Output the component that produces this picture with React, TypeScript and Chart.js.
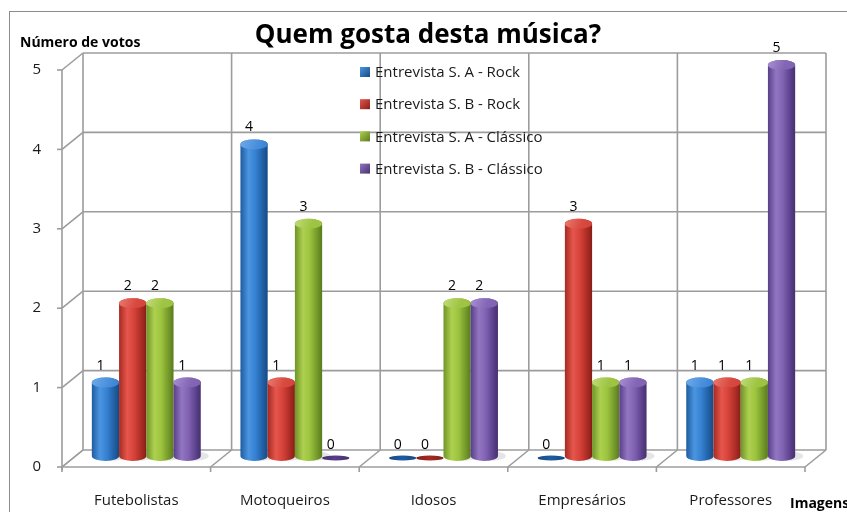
import React, { useEffect, useRef } from "react";
import { Chart, registerables } from "chart.js";
Chart.register(...registerables);

const categories = ["Futebolistas", "Motoqueiros", "Idosos", "Empresários", "Professores"];
const seriesLabels = [
  "Entrevista S. A - Rock",
  "Entrevista S. B - Rock",
  "Entrevista S. A - Clássico",
  "Entrevista S. B - Clássico",
];
const rockA = [1, 4, 0, 0, 1];
const rockB = [2, 1, 0, 3, 1];
const classicoA = [2, 3, 2, 1, 1];
const classicoB = [1, 0, 2, 1, 5];
const yTicks = [0, 1, 2, 3, 4, 5];
const titleText = "Quem gosta desta música?";
const yTitle = "Número de votos";
const xTitle = "Imagens";

const FONT = "'Open Sans', 'Noto Sans', sans-serif";

const palette = [
  { darkest: "#174a82", dark: "#1f5ca0", light: "#4b95e0", mid: "#3581d2", cap: "#4a8fdc", capHi: "#6eaaea" },
  { darkest: "#851e18", dark: "#a52a22", light: "#e6564c", mid: "#d6423a", cap: "#d84a40", capHi: "#ec7a70" },
  { darkest: "#5a7a1c", dark: "#6f9428", light: "#aed050", mid: "#9cc43e", cap: "#9fc444", capHi: "#c0dc78" },
  { darkest: "#47306f", dark: "#583e88", light: "#9276c2", mid: "#8062b2", cap: "#8466b6", capHi: "#a890d2" },
];

// perspective offsets (front and back planes relative to the bar plane)
const FX = -10, FY = 8, BX = 11, BY = -9;

function drawCylinder(ctx: CanvasRenderingContext2D, x: number, top: number, base: number, w: number, col: any) {
  const rx = w / 2;
  const ry = 5;
  const l = x - rx, r = x + rx;
  const ty = top + 3;
  const by = base - 3;
  if (by - ty < 2) {
    ctx.beginPath();
    ctx.ellipse(x, base - 1, rx, 2.6, 0, 0, Math.PI * 2);
    const gz = ctx.createLinearGradient(l, 0, r, 0);
    gz.addColorStop(0, col.darkest);
    gz.addColorStop(0.5, col.dark);
    gz.addColorStop(1, col.darkest);
    ctx.fillStyle = gz;
    ctx.fill();
    return;
  }
  ctx.beginPath();
  ctx.ellipse(x + 5, base - 3, rx + 3, 5, 0, 0, Math.PI * 2);
  ctx.fillStyle = "rgba(0,0,0,0.10)";
  ctx.fill();

  const g = ctx.createLinearGradient(l, 0, r, 0);
  g.addColorStop(0, col.dark);
  g.addColorStop(0.3, col.light);
  g.addColorStop(0.55, col.mid);
  g.addColorStop(0.85, col.dark);
  g.addColorStop(1, col.darkest);
  ctx.beginPath();
  ctx.moveTo(l, ty);
  ctx.lineTo(l, by);
  ctx.ellipse(x, by, rx, ry, 0, Math.PI, 0, true);
  ctx.lineTo(r, ty);
  ctx.ellipse(x, ty, rx, ry, 0, 0, Math.PI, true);
  ctx.closePath();
  ctx.fillStyle = g;
  ctx.fill();

  const gc = ctx.createLinearGradient(l, ty - ry, r, ty + ry);
  gc.addColorStop(0, col.capHi);
  gc.addColorStop(0.6, col.cap);
  gc.addColorStop(1, col.mid);
  ctx.beginPath();
  ctx.ellipse(x, ty, rx, ry, 0, 0, Math.PI * 2);
  ctx.fillStyle = gc;
  ctx.fill();
}

const framePlugin = {
  id: "frame3d",
  beforeDraw(chart: any) {
    const ctx = chart.ctx;
    ctx.save();
    ctx.fillStyle = "#ffffff";
    ctx.fillRect(0, 0, chart.width, chart.height);
    ctx.strokeStyle = "#8c8c8c";
    ctx.lineWidth = 1;
    ctx.strokeRect(9.5, 11.5, chart.width + 20, chart.height + 20);
    ctx.restore();
  },
  beforeDatasetsDraw(chart: any) {
    const ctx = chart.ctx;
    const xs = chart.scales.x;
    const ys = chart.scales.y;
    const L = chart.chartArea.left;
    const R = chart.chartArea.right;
    const Y = (v: number) => ys.getPixelForValue(v);
    const n = categories.length;
    const bounds: number[] = [];
    for (let k = 0; k <= n; k++) bounds.push(xs.getPixelForValue(k - 0.5));
    const y0 = Y(yTicks[0]);
    const yTop = Y(yTicks[yTicks.length - 1]);
    ctx.save();
    ctx.strokeStyle = "#9c9c9c";
    ctx.lineWidth = 1.6;
    const line = (x1: number, y1: number, x2: number, y2: number) => {
      ctx.beginPath();
      ctx.moveTo(x1, y1);
      ctx.lineTo(x2, y2);
      ctx.stroke();
    };
    yTicks.forEach((v) => line(L + BX, Y(v) + BY, R + BX, Y(v) + BY));
    bounds.forEach((b) => line(b + BX, y0 + BY, b + BX, yTop + BY));
    yTicks.forEach((v) => line(L + FX, Y(v) + FY, L + BX, Y(v) + BY));
    line(L + FX, y0 + FY + 3, L + FX, yTop + FY);
    yTicks.forEach((v) => line(L + FX - 5, Y(v) + FY, L + FX, Y(v) + FY));
    line(L + FX, y0 + FY, R + FX, y0 + FY);
    bounds.forEach((b) => {
      line(b + FX, y0 + FY, b + BX, y0 + BY);
      line(b + FX, y0 + FY, b + FX, y0 + FY + 5);
    });
    ctx.restore();
  },
  afterDatasetsDraw(chart: any) {
    const ctx = chart.ctx;
    ctx.save();
    chart.data.datasets.forEach((ds: any, di: number) => {
      const meta = chart.getDatasetMeta(di);
      meta.data.forEach((el: any) => {
        const p = el.getProps(["x", "y", "base", "width"], true);
        drawCylinder(ctx, p.x, p.y, p.base, p.width, palette[di]);
      });
    });
    ctx.fillStyle = "#000";
    ctx.font = `14px ${FONT}`;
    ctx.textAlign = "center";
    ctx.textBaseline = "middle";
    chart.data.datasets.forEach((ds: any, di: number) => {
      const meta = chart.getDatasetMeta(di);
      meta.data.forEach((el: any, i: number) => {
        const p = el.getProps(["x", "y"], true);
        ctx.fillText(String(ds.data[i]), p.x - 5, p.y - 14);
      });
    });
    // title
    ctx.font = `bold 26px ${FONT}`;
    ctx.fillStyle = "#000";
    ctx.fillText(titleText, 428, 36);
    // legend
    const lx = 360;
    const ly0 = 72;
    const gap = 32.2;
    ctx.textAlign = "left";
    ctx.font = `15px ${FONT}`;
    seriesLabels.forEach((lab, i) => {
      const y = ly0 + i * gap;
      const col = palette[i];
      const g = ctx.createLinearGradient(lx, y - 5, lx + 10, y + 5);
      g.addColorStop(0, col.light);
      g.addColorStop(1, col.darkest);
      ctx.fillStyle = g;
      ctx.fillRect(lx, y - 5, 10, 10);
      ctx.fillStyle = "#1a1a1a";
      ctx.fillText(lab, lx + 15, y + 1);
    });
    ctx.font = `bold 14px ${FONT}`;
    ctx.fillStyle = "#000";
    ctx.fillText(yTitle, 20, 43);
    ctx.fillText(xTitle, 790, 504);
    ctx.restore();
  },
};

export default function App() {
  const ref = useRef<HTMLCanvasElement>(null);
  useEffect(() => {
    const canvas = ref.current!;
    const data = [rockA, rockB, classicoA, classicoB];
    const chart = new Chart(canvas, {
      type: "bar",
      data: {
        labels: categories,
        datasets: data.map((d, i) => ({
          label: seriesLabels[i],
          data: d,
          backgroundColor: "rgba(0,0,0,0)",
          borderWidth: 0,
          categoryPercentage: 0.733,
          barPercentage: 1,
        })),
      },
      options: {
        animation: false,
        responsive: false,
        devicePixelRatio: 1,
        layout: { padding: { left: 0, right: 32, top: 62, bottom: 0 } },
        plugins: {
          legend: { display: false },
          tooltip: { enabled: false },
          title: { display: false },
        },
        scales: {
          x: {
            type: "category",
            offset: true,
            grid: { display: false },
            border: { display: false },
            ticks: {
              color: "#1a1a1a",
              font: { family: FONT, size: 15 },
              padding: 25,
              labelOffset: -10,
              maxRotation: 0,
              autoSkip: false,
            },
            afterFit: (s: any) => {
              s.height = 53;
            },
          },
          y: {
            min: 0,
            max: 5,
            grid: { display: false },
            border: { display: false },
            ticks: {
              stepSize: 1,
              color: "#1a1a1a",
              font: { family: FONT, size: 15 },
              padding: 23,
              labelOffset: 8,
            },
            afterFit: (s: any) => {
              s.width = 72;
            },
          },
        },
      },
      plugins: [framePlugin],
    } as any);
    return () => chart.destroy();
  }, []);
  return (
    <div style={{ position: "fixed", left: 0, top: 0, width: 847, height: 512, background: "#fff" }}>
      <canvas ref={ref} width={847} height={512} style={{ display: "block", width: 847, height: 512 }} />
    </div>
  );
}
